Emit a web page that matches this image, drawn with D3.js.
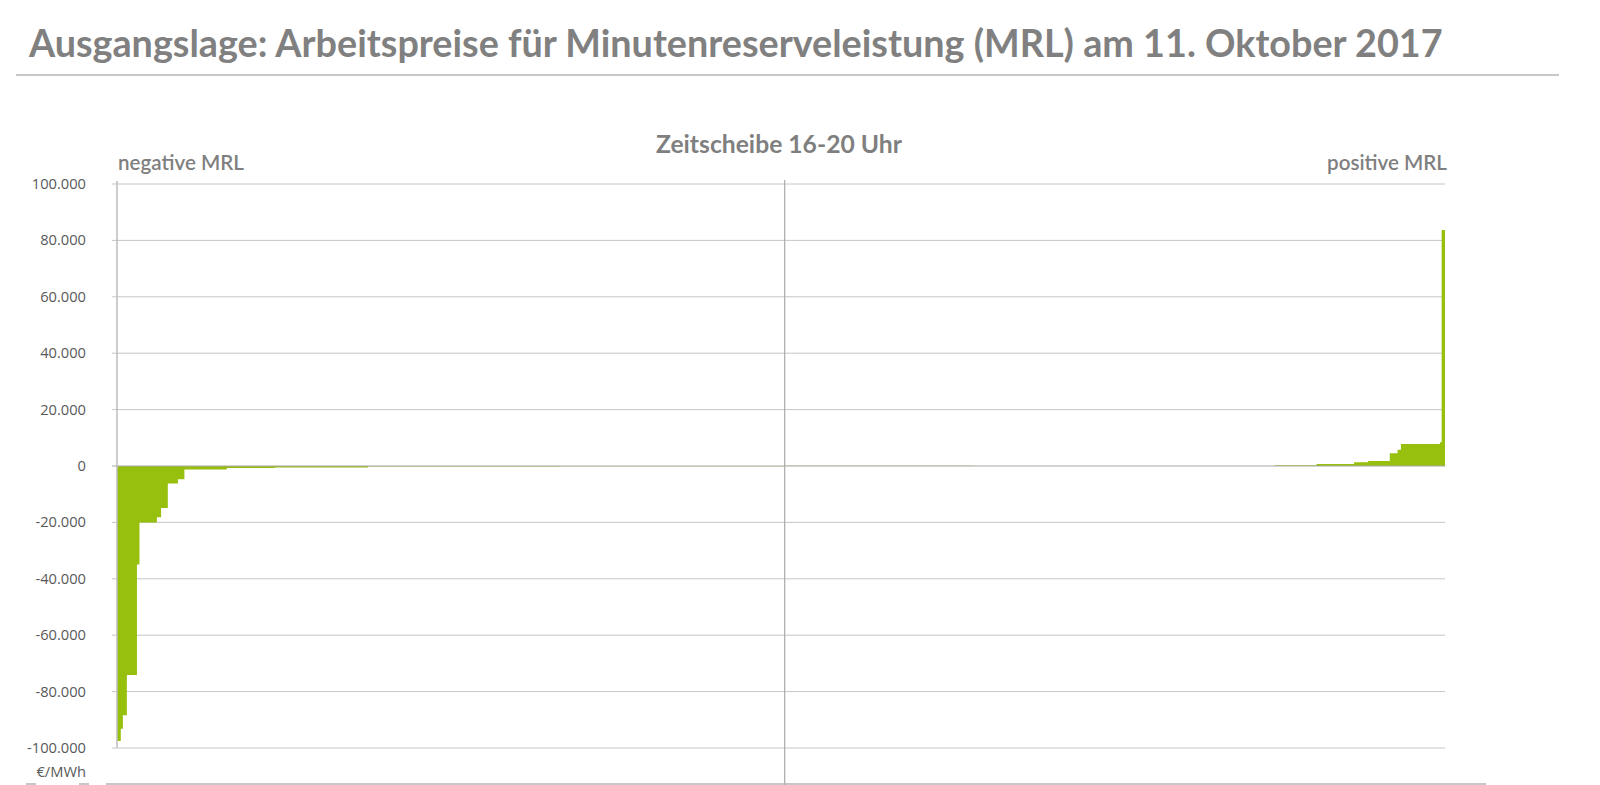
<!DOCTYPE html>
<html>
<head>
<meta charset="utf-8">
<script src="https://cdn.jsdelivr.net/npm/d3@7"></script>
<style>
  body { margin: 0; background: #fff; }
  svg { display: block; }
</style>
</head>
<body>
<div id="chart"></div>
<script>
// bids sorted by price: width of each step (MW) and price (€/MWh)
const negMW    = [18, 10, 19, 48, 12, 83, 20, 32, 48, 31, 202, 230, 443, 914, 1070];
const negPrice = [-97500, -93200, -88400, -74100, -34900, -20000, -18200, -14900, -6200, -4700, -1200, -700, -500, -180, -80];
const posMW    = [896, 1438, 199, 179, 67, 103, 37, 16, 186, 8, 16];
const posPrice = [120, 40, 300, 700, 1300, 1800, 4500, 5800, 7800, 8400, 83700];
const yTicks   = [100000, 80000, 60000, 40000, 20000, 0, -20000, -40000, -60000, -80000, -100000];

const title = "Ausgangslage: Arbeitspreise für Minutenreserveleistung (MRL) am 11. Oktober 2017";
const subTitle = "Zeitscheibe 16-20 Uhr";

// set the dimensions of the graph
const W = 1600, H = 785;
const pLeft = 117, pRight = 1445, pTop = 184, pBottom = 748;

const svg = d3.select("#chart")
  .append("svg")
  .attr("width", W)
  .attr("height", H);

const de = d3.formatLocale({decimal: ",", thousands: ".", grouping: [3], currency: ["", " €"], minus: "-"});
const fmt = de.format(",d");

// build the steps
let steps = [];
let acc = 0;
negMW.forEach((w, i) => { steps.push({x: acc, v: negPrice[i]}); acc += w; });
const mid = acc;
posMW.forEach((w, i) => { steps.push({x: acc, v: posPrice[i]}); acc += w; });
steps.push({x: acc, v: posPrice[posPrice.length - 1]});

const x = d3.scaleLinear().domain([0, acc]).range([pLeft, pRight]);
const y = d3.scaleLinear().domain([-100000, 100000]).range([pBottom, pTop]);

// shrink / grow a text to a given width
function fitText(t, width) {
  const fs = parseFloat(t.attr("font-size"));
  const len = t.node().getComputedTextLength();
  const nfs = fs * width / len;
  t.attr("font-size", nfs.toFixed(2));
  return nfs;
}

// title + rule
const tt = svg.append("text")
  .attr("x", 29).attr("y", 57)
  .attr("font-family", "Lato, 'Open Sans', sans-serif")
  .attr("font-weight", 700)
  .attr("font-size", 36)
  .attr("fill", "#808080")
  .text(title);
fitText(tt, 1414);

svg.append("line")
  .attr("x1", 16).attr("x2", 1559)
  .attr("y1", 75).attr("y2", 75)
  .attr("stroke", "#b4b4b4").attr("stroke-width", 1.5);

// gridlines
svg.append("g")
  .selectAll("line")
  .data(yTicks.filter(d => d !== 0))
  .join("line")
    .attr("x1", pLeft - 5).attr("x2", pRight)
    .attr("y1", d => y(d)).attr("y2", d => y(d))
    .attr("stroke", "#c6c6c6").attr("stroke-width", 1);

// stepped area
const area = d3.area()
  .curve(d3.curveStepAfter)
  .x(d => x(d.x))
  .y0(y(0))
  .y1(d => y(d.v));

svg.append("path")
  .datum(steps)
  .attr("d", area)
  .attr("fill", "#97bf0d");

// zero line, axis and middle divider
svg.append("line")
  .attr("x1", pLeft - 5).attr("x2", pRight)
  .attr("y1", y(0)).attr("y2", y(0))
  .attr("stroke", "#a8a8a8").attr("stroke-width", 1.2);

svg.append("line")
  .attr("x1", pLeft).attr("x2", pLeft)
  .attr("y1", pTop - 3).attr("y2", pBottom)
  .attr("stroke", "#bdbdbd").attr("stroke-width", 1.5);

svg.append("line")
  .attr("x1", x(mid)).attr("x2", x(mid))
  .attr("y1", pTop - 4).attr("y2", H)
  .attr("stroke", "#aaaaaa").attr("stroke-width", 1.2);

// y labels
const labels = svg.append("g")
  .selectAll("text")
  .data(yTicks)
  .join("text")
    .attr("x", 86)
    .attr("y", d => y(d) + 5)
    .attr("text-anchor", "end")
    .attr("font-family", "'Open Sans', sans-serif")
    .attr("font-size", 13.5)
    .attr("fill", "#595959")
    .text(d => fmt(d));

const lfs = fitText(labels.filter(d => d === -100000), 59);
labels.attr("font-size", lfs.toFixed(2));

svg.append("text")
  .attr("x", 86).attr("y", 777)
  .attr("text-anchor", "end")
  .attr("font-family", "'Open Sans', sans-serif")
  .attr("font-size", lfs.toFixed(2))
  .attr("fill", "#595959")
  .text("€/MWh");

// chart title and side labels
const st = svg.append("text")
  .attr("x", 779).attr("y", 153)
  .attr("text-anchor", "middle")
  .attr("font-family", "Lato, 'Open Sans', sans-serif")
  .attr("font-weight", 700)
  .attr("font-size", 20)
  .attr("fill", "#7f7f7f")
  .text(subTitle);
fitText(st, 246);

const nl = svg.append("text")
  .attr("x", pLeft + 1).attr("y", 170)
  .attr("font-family", "Lato, 'Open Sans', sans-serif")
  .attr("font-weight", 600)
  .attr("font-size", 17)
  .attr("fill", "#7f7f7f")
  .text("negative MRL");
fitText(nl, 126);

const pl = svg.append("text")
  .attr("x", pRight + 2).attr("y", 170)
  .attr("text-anchor", "end")
  .attr("font-family", "Lato, 'Open Sans', sans-serif")
  .attr("font-weight", 600)
  .attr("font-size", 17)
  .attr("fill", "#7f7f7f")
  .text("positive MRL");
fitText(pl, 120);

// bottom edge lines
svg.append("g")
  .selectAll("line")
  .data([[26, 36], [79, 89], [106, 1486]])
  .join("line")
    .attr("x1", d => d[0]).attr("x2", d => d[1])
    .attr("y1", 784).attr("y2", 784)
    .attr("stroke", "#b4b4b4").attr("stroke-width", 1.5);
</script>
</body>
</html>
